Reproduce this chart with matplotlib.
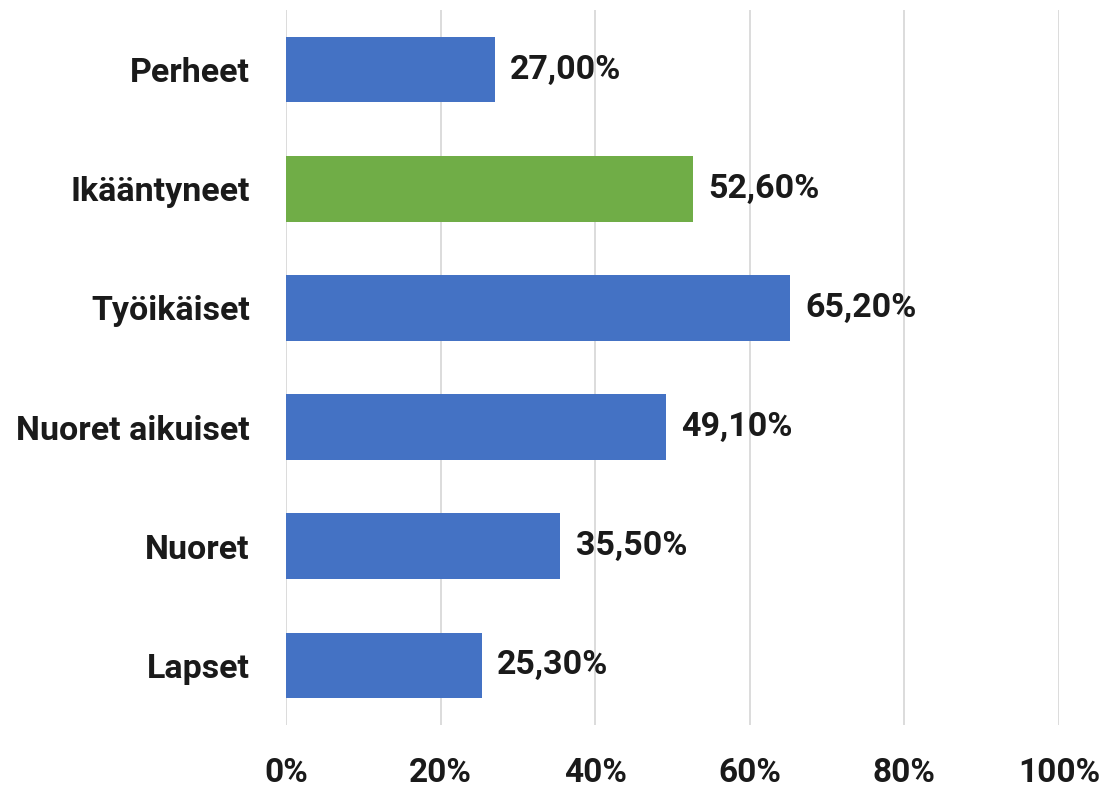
import matplotlib
matplotlib.use('Agg')
from matplotlib import pyplot as plt

categories = ['Lapset', 'Nuoret', 'Nuoret aikuiset', 'Työikäiset', 'Ikääntyneet', 'Perheet']
values = [25.3, 35.5, 49.1, 65.2, 52.6, 27.0]
colors = ['#4472C4', '#4472C4', '#4472C4', '#4472C4', '#70AD47', '#4472C4']
xticks = [0, 20, 40, 60, 80, 100]


def main():
    plt.rcParams['font.family'] = ['Roboto', 'DejaVu Sans']
    fig = plt.figure(figsize=(11.07, 7.87), dpi=100)
    ax = fig.add_axes([0.2584, 0.0788, 0.6982, 0.9085])

    pos = range(len(categories))
    ax.barh(pos, values, height=0.55, color=colors, zorder=3)
    for y, v in zip(pos, values):
        label = f'{v:.2f}'.replace('.', ',') + '%'
        ax.text(v + 2.0, y, label, va='center', ha='left',
                fontsize=24.5, fontweight='bold', color='#1a1a1a')

    ax.set_xlim(0, 100)
    ax.set_ylim(-0.5, len(categories) - 0.5)
    ax.set_yticks(list(pos))
    ax.set_yticklabels(categories, fontsize=24.5, fontweight='bold', color='#1a1a1a')
    ax.set_xticks(xticks)
    ax.set_xticklabels([f'{t}%' for t in xticks], fontsize=24, fontweight='bold', color='#1a1a1a')
    ax.tick_params(axis='both', length=0)
    ax.tick_params(axis='y', pad=26)
    ax.tick_params(axis='x', pad=23)
    ax.xaxis.grid(True, color='#d9d9d9', linewidth=1.3, zorder=0)
    for s in ax.spines.values():
        s.set_visible(False)

    fig.savefig('out.png', dpi=100)


if __name__ == '__main__':
    main()
